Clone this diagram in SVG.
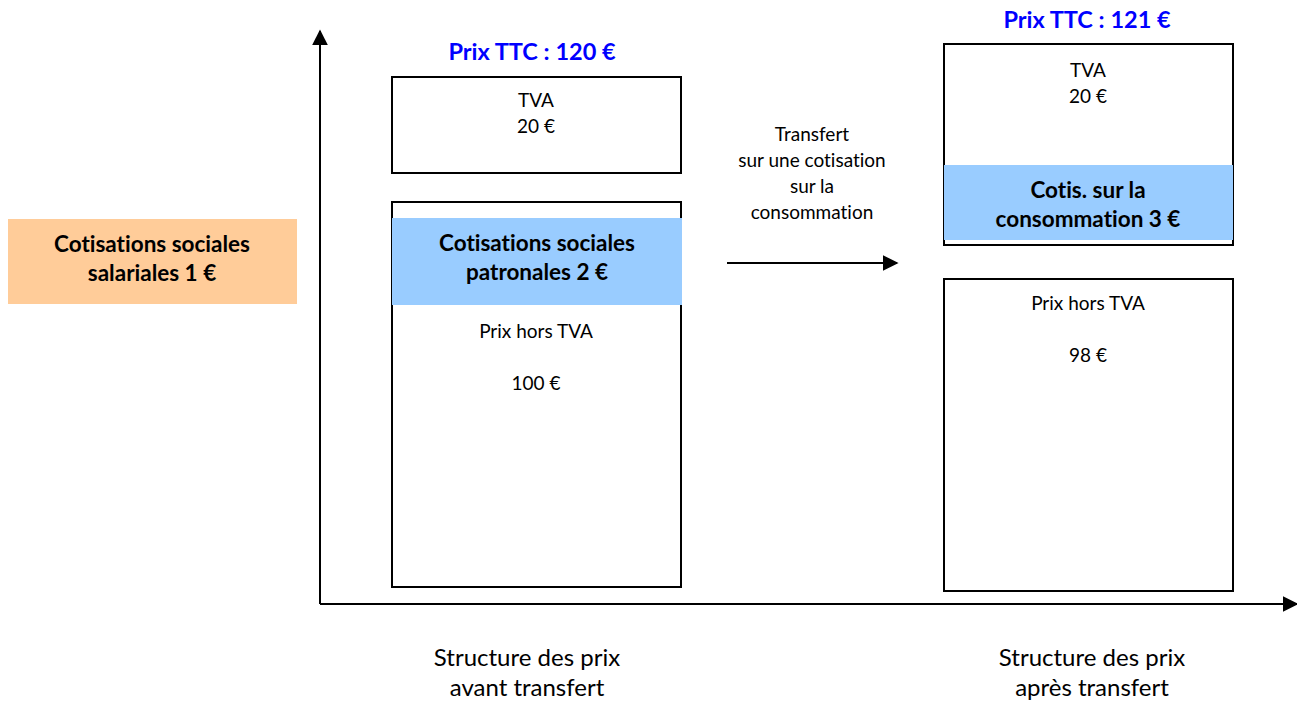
<svg xmlns="http://www.w3.org/2000/svg" width="1297" height="701" viewBox="0 0 1297 701">
<style>
text{font-family:Lato,"Open Sans","Liberation Sans",sans-serif;fill:#000;text-anchor:middle;font-variant-ligatures:none}
.n{font-size:19px}
.b{font-size:22.5px;font-weight:bold}
.t{font-size:23.5px;font-weight:bold;fill:#0000FF}
.s{font-size:24px}
.box{fill:#fff;stroke:#000;stroke-width:2}
.blue{fill:#99CCFF}
.orange{fill:#FFCC99}
.ln{stroke:#000;stroke-width:2;fill:none}
</style>
<defs>
<marker id="ahb" viewBox="0 0 10 10" refX="9" refY="5" markerWidth="16" markerHeight="16" markerUnits="userSpaceOnUse" orient="auto">
<path d="M0,0 L10,5 L0,10 z" fill="#000"/>
</marker>
</defs>
<g id="connectors">
<line class="ln" x1="320" y1="604" x2="320" y2="31" marker-end="url(#ahb)"/>
<line class="ln" x1="320" y1="604" x2="1297" y2="604" marker-end="url(#ahb)"/>
<line class="ln" x1="727" y1="263" x2="897" y2="263" marker-end="url(#ahb)"/>
</g>
<g id="orange-salariales">
<rect class="orange" x="8" y="219" width="289" height="85"/>
<text class="b" x="152" y="252">Cotisations sociales</text>
<text class="b" x="152" y="281">salariales 1 €</text>
</g>
<g id="title-avant">
<text class="t" x="532" y="60">Prix TTC : 120 €</text>
</g>
<g id="tva-avant">
<rect class="box" x="392" y="77" width="289" height="96"/>
<text class="n" x="536" y="107">TVA</text>
<text class="n" x="536" y="133">20 €</text>
</g>
<g id="ht-avant">
<rect class="box" x="392" y="202" width="289" height="385"/>
<text class="n" x="536" y="338">Prix hors TVA</text>
<text class="n" x="536" y="390">100 €</text>
</g>
<g id="patronales">
<rect class="blue" x="392" y="218" width="290" height="87"/>
<text class="b" x="537" y="251">Cotisations sociales</text>
<text class="b" x="537" y="280">patronales 2 €</text>
</g>
<g id="transfert-label">
<text class="n" x="812" y="141">Transfert</text>
<text class="n" x="812" y="167">sur une cotisation</text>
<text class="n" x="812" y="193">sur la</text>
<text class="n" x="812" y="219">consommation</text>
</g>
<g id="title-apres">
<text class="t" x="1087" y="28">Prix TTC : 121 €</text>
</g>
<g id="tva-apres">
<rect class="box" x="944" y="44" width="289" height="201"/>
<text class="n" x="1088" y="77">TVA</text>
<text class="n" x="1088" y="103">20 €</text>
</g>
<g id="cotis-conso">
<rect class="blue" x="944" y="165" width="289" height="75"/>
<text class="b" x="1088" y="198">Cotis. sur la</text>
<text class="b" x="1088" y="227">consommation 3 €</text>
</g>
<g id="ht-apres">
<rect class="box" x="944" y="279" width="289" height="312"/>
<text class="n" x="1088" y="310">Prix hors TVA</text>
<text class="n" x="1088" y="362">98 €</text>
</g>
<g id="label-avant">
<text class="s" x="527" y="666">Structure des prix</text>
<text class="s" x="527" y="696">avant transfert</text>
</g>
<g id="label-apres">
<text class="s" x="1092" y="666">Structure des prix</text>
<text class="s" x="1092" y="696">après transfert</text>
</g>
</svg>
